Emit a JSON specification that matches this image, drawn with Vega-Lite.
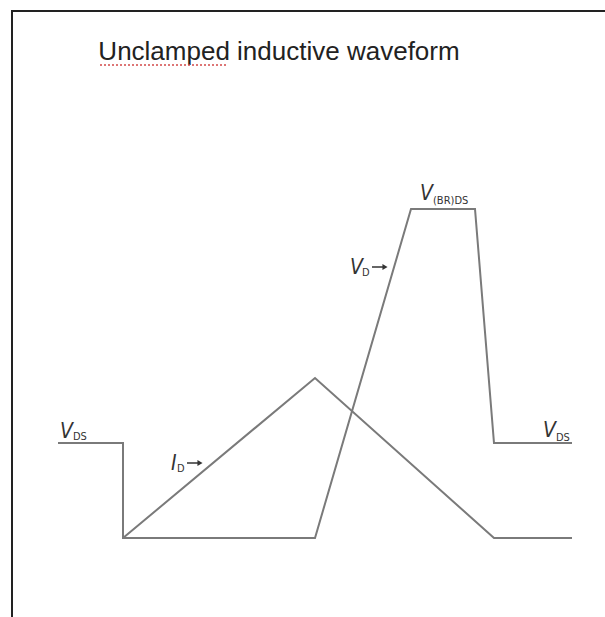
{
  "$schema": "https://vega.github.io/schema/vega-lite/v6.json",
  "width": 605,
  "height": 617,
  "padding": 0,
  "autosize": {"type": "none"},
  "background": "white",
  "config": {"view": {"stroke": null}},
  "datasets": {
    "lines": [
      {"series": "border", "order": 1, "x": 12, "y": 617},
      {"series": "border", "order": 2, "x": 12, "y": 11},
      {"series": "border", "order": 3, "x": 605, "y": 11},
      {"series": "vds", "order": 1, "x": 58, "y": 443},
      {"series": "vds", "order": 2, "x": 123, "y": 443},
      {"series": "vds", "order": 3, "x": 123, "y": 538},
      {"series": "vds", "order": 4, "x": 315, "y": 538},
      {"series": "vds", "order": 5, "x": 411, "y": 209},
      {"series": "vds", "order": 6, "x": 475, "y": 209},
      {"series": "vds", "order": 7, "x": 494, "y": 443},
      {"series": "vds", "order": 8, "x": 572, "y": 443},
      {"series": "id", "order": 1, "x": 123, "y": 538},
      {"series": "id", "order": 2, "x": 315, "y": 378},
      {"series": "id", "order": 3, "x": 494, "y": 538},
      {"series": "id", "order": 4, "x": 572, "y": 538}
    ],
    "mains": [
      {"label": "V", "x": 60, "y": 438},
      {"label": "I", "x": 171, "y": 470},
      {"label": "V", "x": 350, "y": 274},
      {"label": "V", "x": 420, "y": 200},
      {"label": "V", "x": 543, "y": 437}
    ],
    "subs": [
      {"label": "DS", "x": 73, "y": 440},
      {"label": "D", "x": 177, "y": 472},
      {"label": "D", "x": 362, "y": 276},
      {"label": "(BR)DS", "x": 433, "y": 204},
      {"label": "DS", "x": 556, "y": 441}
    ],
    "arrows": [
      {"x": 187, "x2": 200, "y": 463},
      {"x": 372, "x2": 385, "y": 267}
    ],
    "title": [
      {"label": "Unclamped inductive waveform", "x": 279, "y": 60}
    ],
    "squiggle": [
      {"x": 100, "x2": 228, "y": 65}
    ]
  },
  "layer": [
    {
      "data": {"name": "lines"},
      "mark": {"type": "line", "strokeWidth": 2},
      "encoding": {
        "x": {"field": "x", "type": "quantitative", "scale": {"domain": [0, 605], "nice": false, "zero": false}, "axis": null},
        "y": {"field": "y", "type": "quantitative", "scale": {"domain": [0, 617], "nice": false, "zero": false, "reverse": true}, "axis": null},
        "detail": {"field": "series"},
        "order": {"field": "order"},
        "color": {"field": "series", "type": "nominal", "scale": {"domain": ["border", "vds", "id"], "range": ["#222222", "#7a7a7a", "#7a7a7a"]}, "legend": null}
      }
    },
    {
      "data": {"name": "arrows"},
      "mark": {"type": "rule", "strokeWidth": 1.5, "color": "#333333"},
      "encoding": {
        "x": {"field": "x", "type": "quantitative"},
        "x2": {"field": "x2"},
        "y": {"field": "y", "type": "quantitative"}
      }
    },
    {
      "data": {"name": "arrows"},
      "mark": {"type": "point", "shape": "triangle-right", "filled": true, "size": 35, "color": "#333333", "opacity": 1},
      "encoding": {
        "x": {"field": "x2", "type": "quantitative"},
        "y": {"field": "y", "type": "quantitative"}
      }
    },
    {
      "data": {"name": "mains"},
      "mark": {"type": "text", "align": "left", "baseline": "alphabetic", "fontSize": 21, "fontStyle": "italic", "font": "Liberation Sans Narrow, DejaVu Sans Condensed, Liberation Sans", "color": "#333333"},
      "encoding": {
        "x": {"field": "x", "type": "quantitative"},
        "y": {"field": "y", "type": "quantitative"},
        "text": {"field": "label"}
      }
    },
    {
      "data": {"name": "subs"},
      "mark": {"type": "text", "align": "left", "baseline": "alphabetic", "fontSize": 11, "font": "Liberation Sans Narrow, DejaVu Sans Condensed, Liberation Sans", "color": "#333333"},
      "encoding": {
        "x": {"field": "x", "type": "quantitative"},
        "y": {"field": "y", "type": "quantitative"},
        "text": {"field": "label"}
      }
    },
    {
      "data": {"name": "title"},
      "mark": {"type": "text", "align": "center", "baseline": "alphabetic", "fontSize": 26, "font": "Liberation Sans", "color": "#222222"},
      "encoding": {
        "x": {"field": "x", "type": "quantitative"},
        "y": {"field": "y", "type": "quantitative"},
        "text": {"field": "label"}
      }
    },
    {
      "data": {"name": "squiggle"},
      "mark": {"type": "rule", "strokeWidth": 1.5, "strokeDash": [2, 2], "color": "#d24a4a"},
      "encoding": {
        "x": {"field": "x", "type": "quantitative"},
        "x2": {"field": "x2"},
        "y": {"field": "y", "type": "quantitative"}
      }
    }
  ]
}
